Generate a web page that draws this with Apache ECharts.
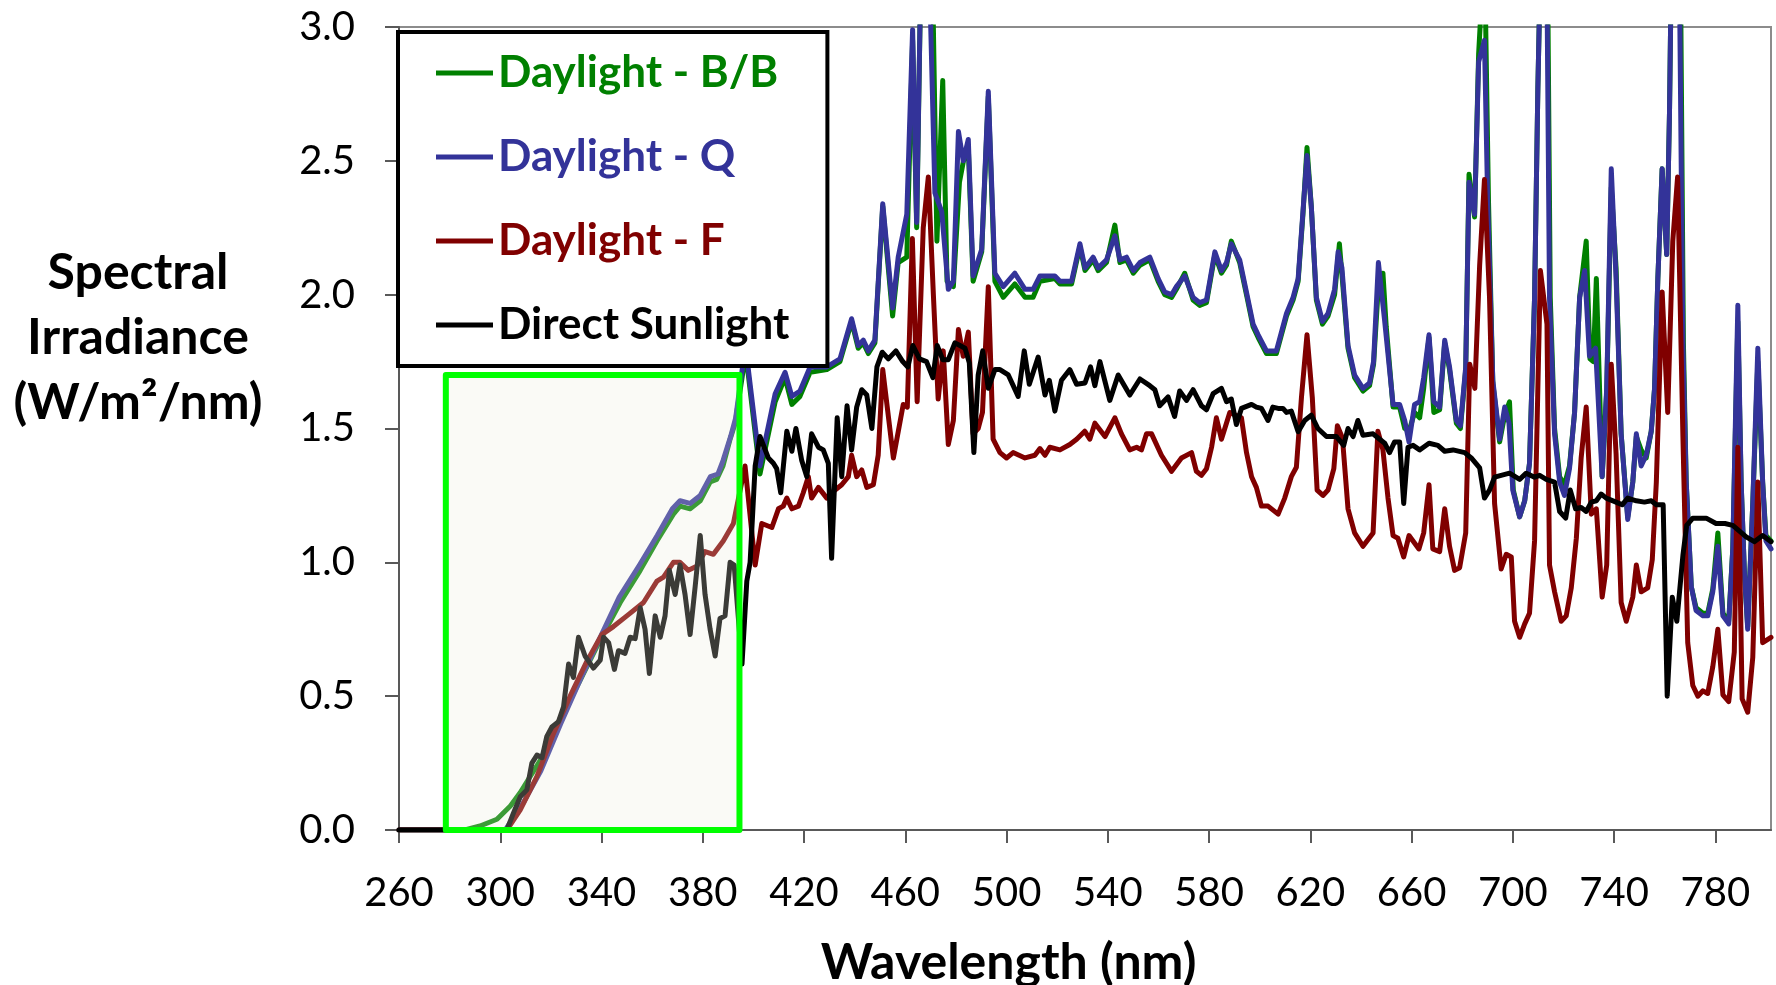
<!DOCTYPE html>
<html>
<head>
<meta charset="utf-8">
<script src="https://cdn.jsdelivr.net/npm/echarts@6/dist/echarts.min.js"></script>
<style>
  html, body, #main { margin: 0; width: 1776px; height: 985px; background: #fff; }
</style>
</head>
<body>
<div id="main"></div>
<script>
// wavelength (nm), irradiance (W/m2/nm)
const daylightBB = [
  [260,0],[286,0],[292,0.015],[298.7,0.04],[304,0.09],[307.9,0.14],[315.8,0.26],[325,0.44],[331.6,0.56],
  [339.5,0.71],[347.4,0.85],[355.3,0.97],[361.9,1.08],[368.4,1.18],[371,1.21],[375,1.2],[379,1.23],
  [382.9,1.3],[385.5,1.31],[388,1.36],[390.8,1.46],[392.8,1.52],[396,1.72],[397.5,1.74],[402.6,1.33],
  [408.6,1.6],[412.5,1.69],[415.2,1.59],[418.4,1.62],[422.4,1.71],[429,1.72],[434.2,1.75],[438.8,1.9],
  [441.4,1.8],[443.4,1.82],[445.4,1.78],[448,1.82],[451.1,2.33],[455,1.92],[457.2,2.12],[460.6,2.14],
  [462.9,2.95],[464.5,2.25],[466.5,3.4],[470.4,3.4],[472.5,2.2],[474.8,2.8],[476.5,2.05],[479,2.03],
  [481.4,2.42],[483,2.5],[484.9,2.55],[486.8,2.05],[490.2,2.16],[492.8,2.74],[495.4,2.05],[498.7,1.99],
  [503.3,2.04],[507.3,1.99],[510.5,1.99],[513.2,2.05],[519.1,2.06],[521.1,2.04],[525.7,2.04],[529,2.18],
  [531,2.09],[534.2,2.13],[536.2,2.09],[539.5,2.12],[542.8,2.26],[544.8,2.12],[547.4,2.13],[550.1,2.08],
  [552.7,2.11],[556.6,2.13],[559.9,2.05],[562.5,2.0],[565.2,1.99],[567.1,2.02],[570.4,2.08],[573.7,1.98],
  [576.3,1.96],[579,1.97],[582.3,2.15],[584.9,2.08],[586.9,2.11],[588.8,2.2],[592.1,2.12],[595,1.99],
  [597.4,1.88],[599.4,1.84],[602.7,1.78],[606.6,1.78],[610.6,1.92],[613.2,1.98],[615.2,2.05],[617.1,2.3],
  [618.7,2.55],[620.4,2.33],[622.4,1.98],[624.8,1.89],[627,1.92],[629.6,2.0],[631.5,2.19],[634.9,1.8],
  [637.5,1.69],[640.8,1.64],[643.4,1.66],[645,1.74],[647,2.05],[648.7,2.08],[650,1.88],[652.7,1.58],
  [655.3,1.58],[657.3,1.5],[659,1.49],[661.2,1.56],[663.2,1.54],[664.8,1.65],[666.9,1.84],[668.8,1.56],
  [671.1,1.57],[673.1,1.82],[675,1.72],[677.7,1.52],[679.3,1.5],[681.4,1.72],[682.7,2.45],[684.9,2.29],
  [686.5,2.9],[688.8,3.3],[690.4,2.35],[692.1,1.67],[694.8,1.45],[696.8,1.55],[698.7,1.6],[700.2,1.27],
  [702.7,1.17],[704.7,1.23],[706.6,1.37],[708.6,1.99],[709.9,2.77],[711.5,3.5],[713.5,3.5],[714.8,1.99],
  [716.5,1.5],[718.5,1.32],[720.4,1.29],[722.4,1.36],[724.4,1.56],[726.4,1.99],[729,2.2],[730.5,1.76],
  [731.8,1.75],[733,2.06],[735.3,1.32],[737.1,1.64],[738.9,2.4],[740.8,2.1],[742.8,1.48],[745.4,1.17],
  [747.4,1.3],[748.8,1.47],[750.7,1.42],[752.7,1.39],[754.7,1.49],[756,1.65],[757.3,2.06],[759,2.47],
  [760.8,2.15],[761.9,2.68],[763,3.5],[766,3.5],[767.4,1.82],[768.5,1.3],[770.5,0.91],[772.4,0.83],
  [775.1,0.81],[777,0.81],[779,0.9],[781,1.11],[783,0.81],[785.3,0.78],[786.9,1.05],[788.9,1.9],
  [790.2,1.3],[791.5,0.96],[792.8,0.76],[794.8,1.22],[796.8,1.75],[798.7,1.3],[800,1.1],[802,1.08]
];
const daylightQ = [
  [260,0],[302,0],[309,0.1],[316,0.22],[324,0.4],[332,0.57],[340,0.73],[347,0.87],[355,0.99],[362,1.1],
  [368,1.2],[371,1.23],[375,1.22],[379,1.25],[383,1.32],[386,1.33],[388,1.38],[391,1.47],[393,1.54],
  [396,1.75],[397.5,1.76],[402.6,1.36],[408.6,1.63],[412.5,1.71],[415.2,1.62],[418.4,1.64],[422.4,1.73],
  [429,1.73],[434.2,1.76],[438.8,1.91],[441.4,1.81],[443.4,1.83],[445.4,1.79],[448,1.83],[451.1,2.34],
  [455,1.95],[457.2,2.14],[460.6,2.3],[462.9,2.99],[464.5,2.27],[466.5,3.4],[469,3.4],[471.7,2.38],
  [474.4,2.31],[477,2.02],[479,2.05],[481,2.61],[482.9,2.5],[484.9,2.58],[486.8,2.07],[490.2,2.17],
  [492.8,2.76],[495.4,2.08],[498.7,2.03],[503.3,2.08],[507.3,2.02],[510.5,2.02],[513.2,2.07],[519.1,2.07],
  [521.1,2.05],[525.7,2.05],[529,2.19],[531,2.1],[534.2,2.14],[536.2,2.1],[539.5,2.13],[542.8,2.22],
  [544.8,2.13],[547.4,2.14],[550.1,2.09],[552.7,2.12],[556.6,2.14],[559.9,2.06],[562.5,2.01],[565.2,2.0],
  [567.1,2.03],[570.4,2.07],[573.7,1.99],[576.3,1.97],[579,1.98],[582.3,2.16],[584.9,2.09],[586.9,2.12],
  [588.8,2.19],[592.1,2.13],[595,2.0],[597.4,1.89],[599.4,1.85],[602.7,1.79],[606.6,1.79],[610.6,1.93],
  [613.2,1.99],[615.2,2.06],[617.1,2.31],[618.7,2.52],[620.4,2.33],[622.4,1.99],[624.8,1.9],[627,1.93],
  [629.6,2.02],[631,2.16],[632.5,2.1],[634.9,1.81],[637.5,1.7],[640.8,1.65],[643.4,1.67],[645,1.75],
  [646.9,2.12],[649.4,1.9],[652.7,1.59],[655.3,1.59],[657.3,1.53],[659,1.45],[661.2,1.59],[663.2,1.6],
  [664.8,1.69],[666.9,1.85],[668.8,1.6],[671.1,1.58],[673.1,1.83],[675,1.73],[677.7,1.53],[679.3,1.51],
  [681.4,1.73],[682.7,2.42],[684.9,2.3],[686.5,2.87],[688.8,2.95],[690.1,2.34],[692.1,1.68],[694.8,1.46],
  [696.8,1.58],[698.5,1.52],[700,1.27],[702.7,1.17],[704.7,1.23],[706.6,1.37],[708.6,1.99],[709.9,2.77],
  [711.5,3.5],[713.2,3.5],[714.5,1.99],[716.5,1.48],[718.5,1.3],[720.4,1.25],[722.4,1.35],[724.4,1.56],
  [726.4,1.99],[728.4,2.09],[730.3,1.77],[732.7,1.8],[735.3,1.32],[737.1,1.65],[738.9,2.47],[740.8,2.06],
  [742.8,1.48],[745.4,1.16],[747.4,1.3],[748.8,1.48],[750.7,1.36],[752.7,1.4],[754.7,1.49],[756,1.65],
  [757.3,2.06],[759,2.47],[760.8,2.15],[761.9,2.68],[763,3.5],[765.5,3.5],[767.2,1.82],[768.5,1.3],
  [770.5,0.91],[772.4,0.82],[775.1,0.8],[777,0.8],[779,0.89],[781,1.06],[783,0.8],[785.3,0.77],
  [786.9,1.05],[788.9,1.96],[790.2,1.3],[791.5,0.96],[792.8,0.75],[794.8,1.22],[796.8,1.8],[798.7,1.3],
  [800,1.08],[802,1.05]
];
const daylightF = [
  [260,0],[302.6,0],[307.9,0.075],[314.5,0.2],[321,0.36],[327.6,0.5],[334.2,0.63],[340.1,0.73],[344.7,0.76],
  [350,0.8],[356.6,0.85],[361.9,0.93],[364.5,0.945],[368.4,1.0],[371,1.0],[374.3,0.97],[377.6,0.985],
  [380.9,1.04],[384.2,1.03],[388.1,1.08],[392.1,1.145],[396.7,1.36],[400.7,0.99],[403.3,1.145],[407.3,1.13],
  [409.9,1.2],[411.8,1.21],[413.2,1.24],[415.2,1.2],[417.8,1.21],[419.7,1.26],[421.7,1.32],[423,1.24],
  [425.7,1.28],[429,1.24],[430.9,1.26],[434.9,1.29],[437.5,1.32],[438.8,1.4],[440.8,1.32],[442.8,1.345],
  [444.8,1.28],[447.4,1.29],[449.3,1.4],[451.1,1.72],[455.3,1.39],[459.2,1.59],[460.8,1.58],[462.8,2.21],
  [464.7,1.6],[467.1,2.25],[469.1,2.44],[471.1,2.0],[473,1.61],[475,1.79],[477,1.44],[479,1.53],[481,1.87],
  [482.9,1.77],[484.9,1.86],[486.8,1.48],[488.8,1.5],[490.5,1.56],[492.8,2.03],[494.7,1.46],[497.4,1.41],
  [500,1.39],[502.6,1.41],[507.3,1.39],[511.2,1.4],[513.2,1.425],[515.2,1.4],[517.1,1.43],[521.1,1.42],
  [525,1.44],[527.7,1.46],[530.9,1.49],[532.9,1.46],[534.9,1.52],[538.9,1.47],[542.8,1.54],[545.4,1.48],
  [548.7,1.42],[551.4,1.43],[553.3,1.42],[555.3,1.48],[557.3,1.48],[561.2,1.4],[565.2,1.34],[569.1,1.39],
  [573.1,1.41],[575,1.34],[577,1.325],[579,1.35],[581,1.43],[582.9,1.54],[584.9,1.46],[588.2,1.56],
  [592.8,1.54],[594.8,1.41],[596.8,1.32],[598.7,1.28],[600.7,1.21],[603.3,1.21],[607.3,1.18],[609.9,1.24],
  [612.5,1.32],[614.5,1.355],[616.5,1.615],[618.7,1.85],[620.8,1.615],[622.7,1.27],[625,1.25],[627,1.27],
  [629.3,1.35],[630.7,1.51],[632.7,1.465],[634.9,1.2],[637.5,1.11],[640.8,1.06],[644.8,1.11],[646.7,1.49],
  [648.7,1.42],[650.7,1.24],[652.7,1.1],[654.6,1.09],[656.9,1.02],[659,1.1],[662.9,1.05],[664.8,1.11],
  [666.9,1.29],[668.4,1.05],[671.1,1.04],[673.1,1.2],[675,1.06],[677,0.97],[679,0.98],[681.4,1.11],
  [683,1.74],[685,1.65],[686.9,2.11],[688.8,2.43],[690.8,1.99],[692.8,1.22],[695.4,0.975],[697.4,1.03],
  [699.4,1.02],[700.7,0.78],[702.7,0.72],[704.7,0.77],[706.6,0.81],[708.6,1.08],[710.9,2.09],[713.5,1.89],
  [714.5,0.99],[716.5,0.89],[719.1,0.78],[721.1,0.8],[723.1,0.905],[725.1,1.09],[727,1.39],[729,1.58],
  [731,1.18],[733,1.2],[735.3,0.87],[737.1,0.99],[738.9,1.74],[740.8,1.405],[742.8,0.85],[744.8,0.78],
  [747.4,0.87],[748.8,0.99],[750.7,0.89],[753.3,0.905],[755.1,1.01],[756.7,1.3],[759,2.01],[761.2,1.56],
  [763.2,2.2],[765.1,2.44],[767.2,1.47],[769.1,0.7],[771.1,0.54],[773.1,0.5],[775.1,0.52],[777,0.51],
  [779,0.61],[781,0.75],[783,0.505],[785.3,0.48],[787.5,0.665],[788.9,1.43],[790.6,0.49],[792.8,0.44],
  [794.8,0.645],[796.8,1.3],[798.7,0.7],[802,0.72]
];
const directSun = [
  [260,0],[302.6,0],[305.2,0.063],[307.9,0.124],[310.5,0.15],[312.5,0.25],[314.5,0.28],[316.5,0.27],
  [318.4,0.35],[320.4,0.385],[323,0.405],[325,0.46],[327,0.62],[328.9,0.57],[330.9,0.72],[333.5,0.65],
  [336.8,0.605],[339.5,0.635],[340.8,0.72],[342.8,0.7],[345.1,0.6],[346.7,0.67],[349.3,0.66],[351.3,0.72],
  [353.3,0.715],[355.3,0.83],[357.2,0.75],[358.9,0.585],[361.2,0.8],[363.2,0.72],[365.1,0.8],[366.8,0.97],
  [369.1,0.88],[371,0.99],[373,0.88],[375,0.73],[377,0.91],[379,1.1],[380.9,0.88],[382.9,0.75],[384.9,0.65],
  [386.8,0.79],[388.8,0.8],[390.8,1.0],[392.4,0.99],[395.5,0.62],[397.4,0.93],[398.7,1.0],[400.7,1.36],
  [402.6,1.47],[405.9,1.39],[407.9,1.37],[409.2,1.35],[410.8,1.26],[413.2,1.49],[415.2,1.415],[416.8,1.5],
  [419.1,1.38],[421.1,1.32],[423,1.48],[425.7,1.43],[427.6,1.42],[429.6,1.37],[430.9,1.015],[433.1,1.54],
  [434.9,1.32],[437,1.585],[438.8,1.42],[440.8,1.58],[442.8,1.645],[444.8,1.625],[446.8,1.5],[448.8,1.73],
  [450.9,1.785],[453.3,1.76],[456.3,1.79],[459,1.75],[461,1.73],[463,1.81],[465.6,1.76],[468.4,1.75],
  [470.9,1.69],[472.6,1.81],[474.8,1.757],[477,1.757],[479.6,1.82],[481.6,1.81],[483.6,1.8],[485.3,1.745],
  [487.1,1.41],[488.8,1.7],[490.6,1.79],[492.8,1.65],[495.4,1.72],[497.4,1.72],[500.7,1.7],[504.6,1.62],
  [507,1.79],[509,1.665],[512.5,1.767],[515.2,1.625],[516.9,1.68],[519.1,1.565],[521.7,1.68],[525,1.72],
  [527.7,1.665],[531,1.67],[533.2,1.73],[534.9,1.66],[536.9,1.75],[540.8,1.605],[544.1,1.7],[548.7,1.625],
  [552.7,1.685],[556.6,1.66],[558.6,1.645],[560.5,1.585],[563.8,1.618],[566.4,1.545],[568.4,1.64],
  [571.1,1.605],[573.7,1.645],[577,1.585],[579,1.57],[581.6,1.63],[584.9,1.65],[586.9,1.6],[588.8,1.61],
  [590.8,1.515],[592.8,1.575],[596.8,1.59],[598.7,1.58],[600.7,1.575],[603.3,1.53],[605.2,1.58],
  [607.3,1.575],[609.2,1.575],[610.6,1.56],[612.5,1.565],[615.2,1.488],[617.8,1.53],[620.4,1.55],[623,1.5],
  [626.4,1.47],[630.3,1.47],[633.2,1.437],[634.9,1.5],[636.9,1.47],[638.8,1.53],[640.8,1.475],[644.8,1.48],
  [647.4,1.46],[649.4,1.445],[651.3,1.41],[653.3,1.45],[655.3,1.45],[656.9,1.22],[658.6,1.43],[660.6,1.437],
  [663.2,1.42],[666.9,1.445],[670.4,1.437],[673.1,1.415],[676.4,1.42],[681,1.41],[683.6,1.39],[686.9,1.353],
  [688.8,1.24],[690.8,1.27],[692.8,1.318],[695.4,1.325],[698.7,1.333],[702.7,1.31],[705.3,1.333],
  [708.6,1.318],[710.6,1.325],[713.2,1.31],[716.5,1.3],[718.5,1.19],[720.9,1.165],[722.7,1.27],[724.8,1.2],
  [727,1.205],[729,1.19],[731,1.225],[733,1.23],[734.9,1.255],[736.9,1.24],[740.8,1.225],[743.2,1.215],
  [745.4,1.24],[748.8,1.23],[752,1.225],[754.7,1.23],[756.7,1.215],[759.4,1.215],[761,0.5],[763,0.87],
  [764.8,0.78],[767.2,1.026],[768.7,1.138],[771.1,1.165],[776.4,1.165],[780.3,1.145],[783.8,1.145],
  [786.9,1.138],[792.2,1.095],[795.4,1.077],[798.7,1.1],[802,1.077]
];
// highlighted UV band: [x from, y from, x to, y to]
const uvBox = [278.5, 0, 394.5, 1.7];

const seriesNames = ['Daylight - B/B', 'Daylight - Q', 'Daylight - F', 'Direct Sunlight'];
const seriesColors = ['#008000', '#333399', '#800000', '#000000'];
const seriesData = [daylightBB, daylightQ, daylightF, directSun];
const lineWidth = 5;

const chart = echarts.init(document.getElementById('main'));
const font = 'Lato, "Open Sans", sans-serif';

const lineSeries = seriesNames.map((name, i) => ({
  name: name,
  type: 'line',
  data: seriesData[i],
  symbol: 'none',
  clip: true,
  z: 2,
  itemStyle: { color: seriesColors[i] },
  lineStyle: { color: seriesColors[i], width: lineWidth, join: 'round', cap: 'round' },
  emphasis: { lineStyle: { width: lineWidth } },
  blur: { lineStyle: { width: lineWidth } }
}));

lineSeries.push({
  type: 'custom',
  name: 'uv',
  data: [uvBox],
  z: 5,
  silent: true,
  renderItem: function (params, api) {
    const p0 = api.coord([api.value(0), api.value(3)]);
    const p1 = api.coord([api.value(2), api.value(1)]);
    return {
      type: 'rect',
      shape: { x: p0[0], y: p0[1], width: p1[0] - p0[0], height: p1[1] - p0[1] },
      style: { fill: 'rgba(235,235,220,0.25)', stroke: '#00ff00', lineWidth: 6, lineJoin: 'round' }
    };
  }
});

chart.setOption({
  animation: false,
  backgroundColor: '#fff',
  title: {
    text: 'Spectral\nIrradiance\n(W/m²/nm)',
    left: 138, top: 240,
    padding: 0,
    textAlign: 'center',
    textVerticalAlign: 'top',
    textStyle: { fontFamily: font, fontWeight: 'bold', fontSize: 50, lineHeight: 65, color: '#000' }
  },
  grid: {
    left: 399, right: 5, top: 27, bottom: 155,
    show: true, borderColor: '#8c8c8c', borderWidth: 2,
    outerBoundsMode: 'none'
  },
  legend: {
    data: seriesNames.map((n, i) => ({ name: n, textStyle: { color: seriesColors[i] } })),
    orient: 'vertical',
    left: 398, top: 32,
    padding: [19, 38, 19, 38],
    itemGap: 40,
    itemWidth: 57, itemHeight: 5,
    icon: 'rect',
    lineStyle: { width: lineWidth, inactiveWidth: lineWidth },
    backgroundColor: '#fff',
    borderColor: '#000', borderWidth: 4,
    textStyle: { fontFamily: font, fontWeight: 'bold', fontSize: 44, lineHeight: 44 }
  },
  xAxis: {
    type: 'value',
    min: 260, max: 802, interval: 40,
    name: 'Wavelength (nm)',
    nameLocation: 'middle',
    nameGap: 133,
    nameTextStyle: {
      fontFamily: font, fontWeight: 'bold', fontSize: 50, color: '#000',
      align: 'center', verticalAlign: 'middle', padding: [0, 153, 0, 0]
    },
    axisLine: { lineStyle: { color: '#595959', width: 2 } },
    axisTick: { length: 13, lineStyle: { color: '#595959', width: 2 } },
    axisLabel: { fontFamily: font, fontSize: 40, color: '#000', margin: 43, showMaxLabel: false },
    splitLine: { show: false }
  },
  yAxis: {
    type: 'value',
    min: 0, max: 3, interval: 0.5,
    axisLine: { show: true, lineStyle: { color: '#595959', width: 2 } },
    axisTick: { show: true, length: 14, lineStyle: { color: '#595959', width: 2 } },
    axisLabel: {
      fontFamily: font, fontSize: 40, color: '#000', margin: 44,
      formatter: v => v.toFixed(1)
    },
    splitLine: { show: false }
  },
  series: lineSeries
});
</script>
</body>
</html>
